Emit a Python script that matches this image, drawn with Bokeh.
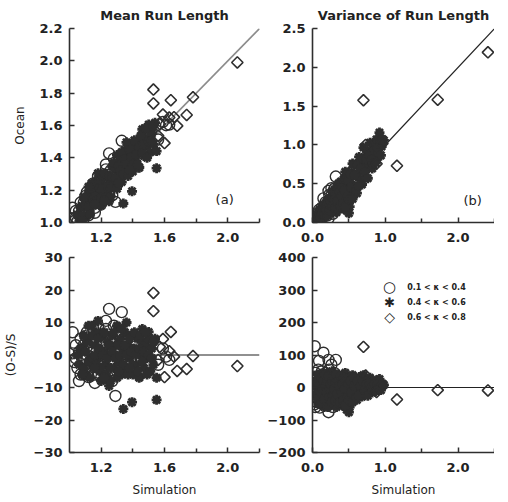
import numpy as np
from bokeh.plotting import figure
from bokeh.layouts import gridplot
from bokeh.models import (Range1d, FixedTicker, PrintfTickFormatter, Slope, Span, Label)
from bokeh.embed import file_html
from bokeh.resources import INLINE

# ---------------- data (simulation value, relative error (O-S)/S in %) ----------------
# Panel (a): mean run length
a_circles = [(1.02, 7.0), (1.25, 14.2), (1.33, 13.2), (1.29, -12.6), (1.16, -8.6), (1.03, -2.2),
             (1.02, 0.5), (1.10, 5.8), (1.12, -6.8), (1.23, 10.5), (1.04, 3), (1.05, -4), (1.06, 1),
             (1.07, 5), (1.07, -6), (1.08, -1), (1.09, 3), (1.10, -3), (1.11, 7), (1.11, 0),
             (1.12, -5), (1.13, 4), (1.14, -2), (1.15, 8), (1.15, 1), (1.16, -6), (1.17, 4),
             (1.18, -3), (1.19, 6), (1.20, 0), (1.20, -7), (1.21, 3), (1.22, -4), (1.23, 8),
             (1.24, 1), (1.25, -6), (1.26, 5), (1.27, -2), (1.28, 9), (1.29, 2), (1.30, -5),
             (1.31, 6), (1.32, -1), (1.34, 4), (1.35, -3), (1.06, -8), (1.18, 9), (1.27, -8),
             (1.04, -1), (1.13, 2), (1.09, -6), (1.21, -2), (1.17, 1), (1.59, 2.0), (1.61, -0.5),
             (1.56, -3), (1.63, -1.5)]
a_stars = [(1.34, -16.6), (1.395, -14.5), (1.55, -13.8), (1.25, -9.5), (1.44, -6.8), (1.46, 8.0),
           (1.50, 7.1), (1.18, 10.5), (1.08, 2), (1.10, -6), (1.12, 5), (1.13, -1), (1.15, -4),
           (1.16, 3), (1.17, 7), (1.18, -1), (1.19, -5), (1.21, 6), (1.22, 1), (1.23, -3),
           (1.24, 4), (1.25, -8), (1.26, 0), (1.27, 6), (1.28, -4), (1.29, 3), (1.30, 9),
           (1.31, -2), (1.32, 5), (1.33, -6), (1.34, 1), (1.35, 7), (1.36, -4), (1.37, 3),
           (1.38, -1), (1.39, 6), (1.40, -6), (1.41, 2), (1.42, -3), (1.43, 5), (1.44, -7),
           (1.45, 0), (1.46, 4), (1.47, -4), (1.48, 3), (1.49, -1), (1.50, 5), (1.51, -5),
           (1.52, 2), (1.53, -3), (1.54, 5), (1.55, -7), (1.36, 10), (1.20, -8), (1.14, 9),
           (1.05, 0), (1.06, -3), (1.07, 2), (1.09, -4), (1.10, 1), (1.11, 4), (1.12, -2),
           (1.13, -7), (1.14, 6), (1.15, -1), (1.16, 0), (1.17, -3), (1.18, 5), (1.19, 2),
           (1.20, -4), (1.21, 0), (1.22, 7), (1.23, -6), (1.24, -1), (1.25, 3), (1.26, -4),
           (1.27, 1), (1.28, 7), (1.29, -1), (1.30, -7), (1.31, 3), (1.32, 0), (1.33, 8),
           (1.34, -3), (1.35, 3), (1.36, 0), (1.37, -6), (1.38, 5), (1.39, 1), (1.40, -3),
           (1.41, 7), (1.42, 0), (1.43, -5), (1.44, 2), (1.45, 6), (1.46, -2), (1.47, 1),
           (1.48, 7), (1.49, -6), (1.50, 0), (1.52, -1), (1.53, 4), (1.12, 9), (1.08, -6),
           (1.26, -8), (1.09, 6), (1.22, -7), (1.31, -5), (1.38, -4), (1.16, -4)]
a_diamonds = [(1.53, 19.1), (1.53, 13.5), (1.64, 7.1), (1.59, 4.9), (1.63, 1.2), (1.78, -0.3),
              (1.68, -4.9), (1.74, -4.3), (1.60, -6.8), (2.06, -3.4), (1.57, 2.5), (1.56, -1.5),
              (1.66, -0.5)]

# Panel (b): variance of run length
b_circles = [(0.03, 127), (0.15, 107), (0.09, 82), (0.22, 85), (0.32, 85), (0.26, 70), (0.03, 24),
             (0.03, -52), (0.22, -76), (0.02, 10), (0.03, -30), (0.04, 45), (0.04, -60), (0.05, 0),
             (0.06, 30), (0.06, -45), (0.07, -15), (0.08, 55), (0.08, 15), (0.09, -35), (0.10, -62),
             (0.11, 35), (0.11, -5), (0.12, -25), (0.13, 50), (0.14, 10), (0.14, -50), (0.15, -15),
             (0.16, 30), (0.17, -35), (0.18, 45), (0.19, 0), (0.20, -55), (0.21, 20), (0.22, -20),
             (0.23, 55), (0.24, 5), (0.25, -40), (0.26, 35), (0.27, -10), (0.28, -60), (0.29, 15),
             (0.30, 45), (0.31, -30), (0.33, 0), (0.34, 25), (0.35, -45)]
b_stars = [(0.06, 5), (0.08, -50), (0.10, 25), (0.12, -10), (0.13, -40), (0.15, 45), (0.16, -60),
           (0.17, 15), (0.18, -25), (0.20, 40), (0.21, -5), (0.22, -45), (0.24, 25), (0.25, -20),
           (0.27, 50), (0.28, 0), (0.29, -50), (0.31, 30), (0.32, -15), (0.33, -60), (0.35, 10),
           (0.36, 40), (0.37, -35), (0.38, -5), (0.40, 25), (0.41, -55), (0.42, 5), (0.43, -25),
           (0.45, 45), (0.46, 15), (0.47, -45), (0.48, -10), (0.50, 30), (0.51, -60), (0.52, 0),
           (0.54, -30), (0.55, 38), (0.56, 12), (0.58, -20), (0.60, 25), (0.61, -38), (0.62, 0),
           (0.64, 32), (0.65, -15), (0.67, 15), (0.68, -28), (0.70, 38), (0.71, 5), (0.73, -20),
           (0.75, 22), (0.77, -8), (0.79, 30), (0.80, 10), (0.82, -15), (0.84, 18), (0.86, 0),
           (0.88, 22), (0.90, -6), (0.93, 12), (0.95, 3), (0.98, 8), (0.92, 26), (0.50, -76),
           (0.47, -68), (0.04, -20), (0.05, 20), (0.07, 40), (0.07, -35), (0.09, -10), (0.10, 5),
           (0.11, -50), (0.12, 30), (0.13, -20), (0.14, -5), (0.15, 20), (0.16, -35), (0.17, 40),
           (0.18, 5), (0.19, -15), (0.20, 20), (0.21, -60), (0.22, 35), (0.23, -30), (0.24, -5),
           (0.25, 10), (0.26, -45), (0.27, 20), (0.28, -25), (0.29, 35), (0.30, -5), (0.31, -40),
           (0.32, 15), (0.33, 40), (0.34, -20), (0.35, -50), (0.36, 20), (0.37, 5), (0.38, -45),
           (0.39, 35), (0.40, -15), (0.41, 10), (0.42, -40), (0.43, 30), (0.44, -5), (0.45, -55),
           (0.46, 20), (0.48, -30), (0.49, 10), (0.50, -40), (0.52, 20), (0.53, -15), (0.55, -45),
           (0.57, 30), (0.58, 5), (0.60, -30), (0.62, 20), (0.63, -25), (0.66, 5), (0.69, 20),
           (0.72, -10), (0.74, 10), (0.76, -25), (0.78, 12), (0.81, 0), (0.83, -8), (0.85, 10),
           (0.87, -12), (0.89, 8), (0.91, -2), (0.94, -8), (0.96, 12)]
b_diamonds = [(0.70, 125), (0.73, 37), (1.16, -37), (1.72, -8), (2.41, -9), (0.96, 6), (0.88, -14)]

legend_symbols = ["\u25cb", "\u2731", "\u25c7"]
legend_labels = ["0.1 < \u03ba < 0.4", "0.4 < \u03ba < 0.6", "0.6 < \u03ba < 0.8"]
titles = ["Mean Run Length", "Variance of Run Length"]

a_xticks, a_xminor = [1.2, 1.6, 2.0], [1.4, 1.8, 2.2]
a_yticks = [1.0, 1.2, 1.4, 1.6, 1.8, 2.0, 2.2]
b_xticks, b_xminor = [0.0, 1.0, 2.0], [0.5, 1.5, 2.5]
b_yticks = [0.0, 0.5, 1.0, 1.5, 2.0, 2.5]
ea_yticks = [-30, -20, -10, 0, 10, 20, 30]
eb_yticks = [-200, -100, 0, 100, 200, 300, 400]


def unzip(pairs):
    s = np.array([q[0] for q in pairs], float)
    e = np.array([q[1] for q in pairs], float)
    return s, e, s * (1.0 + e / 100.0)


FONT = "DejaVu Sans"
INK = "#2e2e2e"


def style(p, xt, xm, yt, ym, xfmt, yfmt, yover=None):
    p.xaxis.ticker = FixedTicker(ticks=xt, minor_ticks=xm)
    p.yaxis.ticker = FixedTicker(ticks=yt, minor_ticks=ym)
    p.xaxis.formatter = PrintfTickFormatter(format=xfmt)
    p.yaxis.formatter = PrintfTickFormatter(format=yfmt)
    if yover:
        p.yaxis.major_label_overrides = yover
    for ax in (p.xaxis[0], p.yaxis[0]):
        ax.axis_line_width = 1.6
        ax.axis_line_color = INK
        ax.major_tick_in = 5
        ax.major_tick_out = 0
        ax.minor_tick_in = 4
        ax.minor_tick_out = 0
        ax.major_tick_line_color = INK
        ax.minor_tick_line_color = INK
        ax.major_tick_line_width = 1.5
        ax.minor_tick_line_width = 1.5
        ax.major_label_text_font = FONT
        ax.major_label_text_font_size = "13px"
        ax.major_label_text_font_style = "bold"
        ax.major_label_text_color = "#222222"
        ax.major_label_standoff = 7
        ax.axis_label_text_font = FONT
        ax.axis_label_text_font_size = "12px"
        ax.axis_label_text_font_style = "normal"
        ax.axis_label_text_color = "#222222"
    p.xaxis.major_label_standoff = 10
    p.xgrid.visible = False
    p.ygrid.visible = False
    p.outline_line_color = None


def points(p, circ, star, diam, residual):
    out = []
    for data, marker, size, lw, ang in ((circ, "circle", 11, 1.4, 0.0),
                                        (star, "asterisk", 10, 2.8, 0.0),
                                        (diam, "square", 8, 1.6, np.pi / 4)):
        s, e, o = unzip(data)
        y = e if residual else o
        out.append(p.scatter(s, y, marker=marker, size=size, angle=ang, line_color=INK,
                             line_width=lw, fill_color=None))
    return out


common = dict(output_backend="svg", toolbar_location=None)

p1 = figure(width=264, height=248, x_range=Range1d(1.0, 2.2), y_range=Range1d(1.0, 2.2),
            min_border_left=66, min_border_right=5, min_border_top=28, min_border_bottom=26,
            title=titles[0], **common)
p2 = figure(width=230, height=248, x_range=Range1d(0.0, 2.5), y_range=Range1d(0.0, 2.5),
            min_border_left=43, min_border_right=0, min_border_top=28, min_border_bottom=26,
            title=titles[1], **common)
p3 = figure(width=264, height=251, x_range=Range1d(1.0, 2.2), y_range=Range1d(-30, 30),
            min_border_left=66, min_border_right=5, min_border_top=9, min_border_bottom=47,
            **common)
p4 = figure(width=230, height=251, x_range=Range1d(0.0, 2.5), y_range=Range1d(-200, 400),
            min_border_left=43, min_border_right=0, min_border_top=9, min_border_bottom=47,
            **common)

for p in (p1, p2):
    p.title.align = "center"
    p.title.text_font = FONT
    p.title.text_font_size = "13px"
    p.title.text_font_style = "bold"
    p.title.text_color = "#222222"
    p.title.standoff = 11

style(p1, a_xticks, a_xminor, a_yticks, [], "%.1f", "%.1f")
style(p2, b_xticks, b_xminor, b_yticks, [], "%.1f", "%.1f")
style(p3, a_xticks, a_xminor, ea_yticks, [], "%.1f", "%d",
      {v: "\u2212" + str(-v) for v in ea_yticks if v < 0})
style(p4, b_xticks, b_xminor, eb_yticks, [], "%.1f", "%d",
      {v: "\u2212" + str(-v) for v in eb_yticks if v < 0})

p1.yaxis.axis_label = "Ocean"
p1.yaxis.axis_label_standoff = 9
p3.yaxis.axis_label = "(O-S)/S"
p3.yaxis.axis_label_standoff = 13
for p in (p3, p4):
    p.xaxis.axis_label = "Simulation"
    p.xaxis.axis_label_standoff = 8

s1 = Slope(gradient=1, y_intercept=0, line_color="#8c8c8c", line_width=1.6, level="underlay")
s2 = Slope(gradient=1, y_intercept=0, line_color="#222222", line_width=1.2, level="underlay")
p1.add_layout(s1)
p2.add_layout(s2)
for p in (p3, p4):
    p.add_layout(Span(location=0, dimension="width", line_color="#222222", line_width=1.2,
                      level="underlay"))

points(p1, a_circles, a_stars, a_diamonds, False)
points(p2, b_circles, b_stars, b_diamonds, False)
points(p3, a_circles, a_stars, a_diamonds, True)
points(p4, b_circles, b_stars, b_diamonds, True)

p1.add_layout(Label(x=1.98, y=1.14, text="(a)", text_font=FONT, text_font_size="13px",
                    text_align="center", text_baseline="middle", text_color="#222222"))
p2.add_layout(Label(x=2.2, y=0.28, text="(b)", text_font=FONT, text_font_size="13px",
                    text_align="center", text_baseline="middle", text_color="#222222"))

# legend (key symbols and labels as text, placed in the upper right of panel d)
sym_sizes = ["15px", "13px", "14px"]
for i in range(3):
    ly = 308 - i * 46
    p4.add_layout(Label(x=1.06, y=ly, text=legend_symbols[i], text_font=FONT,
                        text_font_size=sym_sizes[i], text_align="center", text_baseline="middle",
                        text_color="#222222"))
    p4.add_layout(Label(x=1.30, y=ly, text=legend_labels[i], text_font=FONT,
                        text_font_size="8px", text_font_style="bold", text_align="left",
                        text_baseline="middle", text_color="#222222"))

grid = gridplot([[p1, p2], [p3, p4]], toolbar_location=None)

open("out.html", "w").write(file_html(grid, INLINE))
